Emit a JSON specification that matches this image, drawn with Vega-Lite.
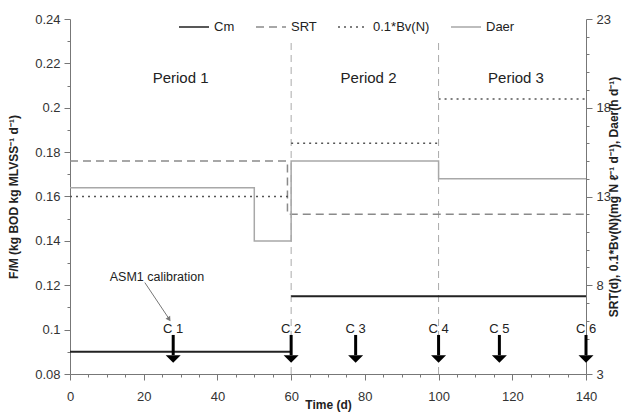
{
  "$schema": "https://vega.github.io/schema/vega-lite/v6.json",
  "width": 516,
  "height": 355,
  "autosize": {"type": "none"},
  "padding": {"left": 70, "top": 19, "right": 51, "bottom": 40},
  "config": {
    "font": "Liberation Sans",
    "view": {"stroke": null},
    "axis": {
      "labelFont": "Liberation Sans",
      "labelFontSize": 13,
      "labelColor": "#333",
      "titleFont": "Liberation Sans",
      "titleFontSize": 12,
      "titleFontWeight": "bold",
      "titleColor": "#222",
      "domainColor": "#777",
      "tickColor": "#777",
      "grid": false
    },
    "text": {"font": "Liberation Sans", "color": "#222"}
  },
  "datasets": {
    "fm": [
      {"series": "Cm", "seg": "a", "i": 1, "t": 0, "v": 0.09},
      {"series": "Cm", "seg": "a", "i": 2, "t": 60, "v": 0.09},
      {"series": "Cm", "seg": "b", "i": 3, "t": 60, "v": 0.115},
      {"series": "Cm", "seg": "b", "i": 4, "t": 140, "v": 0.115}
    ],
    "rt": [
      {"series": "SRT", "seg": "a", "i": 1, "t": 0, "v": 15},
      {"series": "SRT", "seg": "a", "i": 2, "t": 59, "v": 15},
      {"series": "SRT", "seg": "a", "i": 3, "t": 59, "v": 12},
      {"series": "SRT", "seg": "a", "i": 4, "t": 140, "v": 12},
      {"series": "0.1*Bv(N)", "seg": "a", "i": 1, "t": 0, "v": 13},
      {"series": "0.1*Bv(N)", "seg": "a", "i": 2, "t": 60, "v": 13},
      {"series": "0.1*Bv(N)", "seg": "b", "i": 3, "t": 60, "v": 16},
      {"series": "0.1*Bv(N)", "seg": "b", "i": 4, "t": 100, "v": 16},
      {"series": "0.1*Bv(N)", "seg": "c", "i": 5, "t": 100, "v": 18.5},
      {"series": "0.1*Bv(N)", "seg": "c", "i": 6, "t": 140, "v": 18.5},
      {"series": "Daer", "seg": "a", "i": 1, "t": 0, "v": 13.5},
      {"series": "Daer", "seg": "a", "i": 2, "t": 50, "v": 13.5},
      {"series": "Daer", "seg": "a", "i": 3, "t": 50, "v": 10.5},
      {"series": "Daer", "seg": "a", "i": 4, "t": 60, "v": 10.5},
      {"series": "Daer", "seg": "a", "i": 5, "t": 60, "v": 15},
      {"series": "Daer", "seg": "a", "i": 6, "t": 100, "v": 15},
      {"series": "Daer", "seg": "a", "i": 7, "t": 100, "v": 14},
      {"series": "Daer", "seg": "a", "i": 8, "t": 140, "v": 14}
    ],
    "checks": [
      {"label": "C 1", "t": 28},
      {"label": "C 2", "t": 60},
      {"label": "C 3", "t": 77.5},
      {"label": "C 4", "t": 100},
      {"label": "C 5", "t": 116.5},
      {"label": "C 6", "t": 140}
    ],
    "periods": [
      {"label": "Period 1", "t": 30},
      {"label": "Period 2", "t": 81},
      {"label": "Period 3", "t": 121}
    ],
    "dividers": [{"t": 60}, {"t": 100}],
    "note": [{"label": "ASM1 calibration"}]
  },
  "layer": [
    {
      "data": {"name": "dividers"},
      "mark": {"type": "rule", "color": "#aaa", "strokeWidth": 1, "strokeDash": [7, 5]},
      "encoding": {
        "x": {"field": "t", "type": "quantitative", "scale": {"domain": [0, 140], "nice": false}, "axis": null},
        "y": {"datum": 0.08, "type": "quantitative", "scale": {"domain": [0.08, 0.24], "nice": false}, "axis": null},
        "y2": {"datum": 0.2305}
      }
    },
    {
      "data": {"name": "fm"},
      "mark": {"type": "line", "strokeWidth": 2},
      "encoding": {
        "x": {
          "field": "t",
          "type": "quantitative",
          "scale": {"domain": [0, 140], "nice": false},
          "axis": {
            "values": [0,5,10,15,20,25,30,35,40,45,50,55,60,65,70,75,80,85,90,95,100,105,110,115,120,125,130,135,140],
            "labelExpr": "datum.value % 20 === 0 ? datum.label : ''",
            "tickSize": {"condition": {"test": "datum.value % 20 === 0", "value": 6}, "value": 3},
            "title": "Time (d)",
            "labelPadding": 10,
            "titlePadding": -4,
            "labelOverlap": false,
            "labelFlush": false
          }
        },
        "y": {
          "field": "v",
          "type": "quantitative",
          "scale": {"domain": [0.08, 0.24], "nice": false},
          "axis": {
            "orient": "left",
            "values": [0.08,0.09,0.1,0.11,0.12,0.13,0.14,0.15,0.16,0.17,0.18,0.19,0.2,0.21,0.22,0.23,0.24],
            "labelExpr": "round(datum.value*100) % 2 === 0 ? format(datum.value, '.2~f') : ''",
            "tickSize": {"condition": {"test": "round(datum.value*100) % 2 === 0", "value": 6}, "value": 3},
            "title": "F/M (kg BOD kg MLVSS⁻¹ d⁻¹)",
            "labelPadding": 4,
            "titlePadding": 14,
            "labelOverlap": false,
            "labelFlush": false
          }
        },
        "color": {
          "field": "series",
          "type": "nominal",
          "scale": {"domain": ["Cm", "SRT", "0.1*Bv(N)", "Daer"], "range": ["#222222", "#8a8a8a", "#555555", "#a8a8a8"]},
          "legend": {"orient": "none", "legendX": 108, "legendY": -8, "direction": "horizontal", "title": null, "labelFontSize": 13, "labelColor": "#222", "symbolSize": 900, "symbolStrokeWidth": 1.5, "columnPadding": 18, "labelOffset": 4}
        },
        "strokeDash": {
          "field": "series",
          "type": "nominal",
          "scale": {"domain": ["Cm", "SRT", "0.1*Bv(N)", "Daer"], "range": [[1, 0], [8, 5], [2, 4], [1, 0]]},
          "legend": {"orient": "none", "legendX": 108, "legendY": -8, "direction": "horizontal", "title": null, "labelFontSize": 13, "labelColor": "#222", "symbolSize": 900, "symbolStrokeWidth": 1.5, "columnPadding": 18, "labelOffset": 4}
        },
        "detail": {"field": "seg"},
        "order": {"field": "i"}
      }
    },
    {
      "data": {"name": "rt"},
      "mark": {"type": "line", "strokeWidth": 1.5},
      "encoding": {
        "x": {"field": "t", "type": "quantitative", "scale": {"domain": [0, 140], "nice": false}, "axis": null},
        "y": {
          "field": "v",
          "type": "quantitative",
          "scale": {"domain": [3, 23], "nice": false},
          "axis": {
            "orient": "right",
            "values": [3,4,5,6,7,8,9,10,11,12,13,14,15,16,17,18,19,20,21,22,23],
            "labelExpr": "(datum.value - 3) % 5 === 0 ? datum.label : ''",
            "tickSize": {"condition": {"test": "(datum.value - 3) % 5 === 0", "value": 6}, "value": 3},
            "title": "SRT(d), 0.1*Bv(N)(mg N ℓ⁻¹ d⁻¹), Daer(h d⁻¹)",
            "titleAngle": 270,
            "labelPadding": 4,
            "titlePadding": 10,
            "labelOverlap": false,
            "labelFlush": false
          }
        },
        "color": {
          "field": "series",
          "type": "nominal",
          "scale": {"domain": ["Cm", "SRT", "0.1*Bv(N)", "Daer"], "range": ["#222222", "#8a8a8a", "#555555", "#a8a8a8"]},
          "legend": {"orient": "none", "legendX": 108, "legendY": -8, "direction": "horizontal", "title": null, "labelFontSize": 13, "labelColor": "#222", "symbolSize": 900, "symbolStrokeWidth": 1.5, "columnPadding": 18, "labelOffset": 4}
        },
        "strokeDash": {
          "field": "series",
          "type": "nominal",
          "scale": {"domain": ["Cm", "SRT", "0.1*Bv(N)", "Daer"], "range": [[1, 0], [8, 5], [2, 4], [1, 0]]},
          "legend": {"orient": "none", "legendX": 108, "legendY": -8, "direction": "horizontal", "title": null, "labelFontSize": 13, "labelColor": "#222", "symbolSize": 900, "symbolStrokeWidth": 1.5, "columnPadding": 18, "labelOffset": 4}
        },
        "detail": {"field": "seg"},
        "order": {"field": "i"}
      }
    },
    {
      "data": {"name": "checks"},
      "mark": {"type": "rule", "color": "#000", "strokeWidth": 3},
      "encoding": {
        "x": {"field": "t", "type": "quantitative", "scale": {"domain": [0, 140], "nice": false}, "axis": null},
        "y": {"datum": 0.0976, "type": "quantitative", "scale": {"domain": [0.08, 0.24], "nice": false}, "axis": null},
        "y2": {"datum": 0.0885}
      }
    },
    {
      "data": {"name": "checks"},
      "mark": {"type": "point", "shape": "M-1,-0.5L1,-0.5L0,0.5Z", "filled": true, "color": "#000", "opacity": 1, "size": 225},
      "encoding": {
        "x": {"field": "t", "type": "quantitative", "scale": {"domain": [0, 140], "nice": false}, "axis": null},
        "y": {"datum": 0.0868, "type": "quantitative", "scale": {"domain": [0.08, 0.24], "nice": false}, "axis": null}
      }
    },
    {
      "data": {"name": "checks"},
      "mark": {"type": "text", "fontSize": 13, "baseline": "middle", "align": "center"},
      "encoding": {
        "x": {"field": "t", "type": "quantitative", "scale": {"domain": [0, 140], "nice": false}, "axis": null},
        "y": {"datum": 0.1003, "type": "quantitative", "scale": {"domain": [0.08, 0.24], "nice": false}, "axis": null},
        "text": {"field": "label"}
      }
    },
    {
      "data": {"name": "periods"},
      "mark": {"type": "text", "fontSize": 15, "baseline": "middle", "align": "center"},
      "encoding": {
        "x": {"field": "t", "type": "quantitative", "scale": {"domain": [0, 140], "nice": false}, "axis": null},
        "y": {"datum": 0.2135, "type": "quantitative", "scale": {"domain": [0.08, 0.24], "nice": false}, "axis": null},
        "text": {"field": "label"}
      }
    },
    {
      "data": {"name": "note"},
      "mark": {"type": "text", "fontSize": 12.5, "baseline": "middle", "align": "center"},
      "encoding": {
        "x": {"datum": 23.6, "type": "quantitative", "scale": {"domain": [0, 140], "nice": false}, "axis": null},
        "y": {"datum": 0.1238, "type": "quantitative", "scale": {"domain": [0.08, 0.24], "nice": false}, "axis": null},
        "text": {"field": "label"}
      }
    },
    {
      "data": {"name": "note"},
      "mark": {"type": "rule", "color": "#777", "strokeWidth": 1},
      "encoding": {
        "x": {"datum": 20.3, "type": "quantitative", "scale": {"domain": [0, 140], "nice": false}, "axis": null},
        "x2": {"datum": 27.1},
        "y": {"datum": 0.1212, "type": "quantitative", "scale": {"domain": [0.08, 0.24], "nice": false}, "axis": null},
        "y2": {"datum": 0.1043}
      }
    },
    {
      "data": {"name": "note"},
      "mark": {"type": "point", "shape": "triangle-down", "filled": true, "color": "#777", "opacity": 1, "size": 30, "angle": -33},
      "encoding": {
        "x": {"datum": 26.9, "type": "quantitative", "scale": {"domain": [0, 140], "nice": false}, "axis": null},
        "y": {"datum": 0.1047, "type": "quantitative", "scale": {"domain": [0.08, 0.24], "nice": false}, "axis": null}
      }
    }
  ],
  "resolve": {"scale": {"y": "independent"}, "axis": {"x": "independent"}}
}
